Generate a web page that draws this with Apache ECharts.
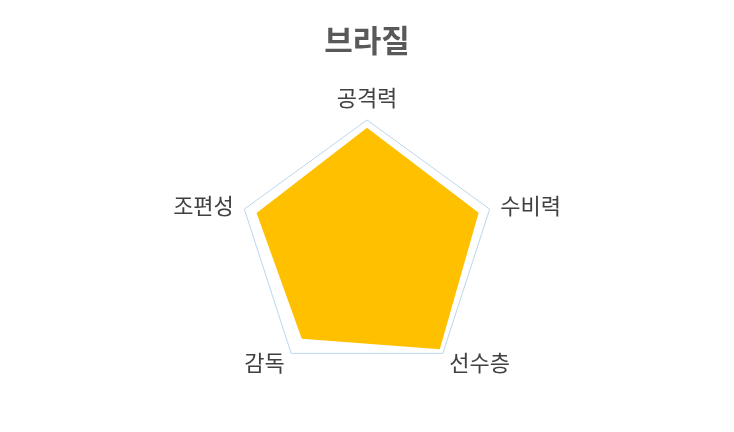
<!DOCTYPE html>
<html>
<head>
<meta charset="utf-8">
<script src="https://cdn.jsdelivr.net/npm/echarts@6/dist/echarts.min.js"></script>
<style>
  html, body { margin: 0; padding: 0; background: #fff; }
  #chart { width: 734px; height: 432px; }
</style>
</head>
<body>
<div id="chart"></div>
<script>
// listed counter-clockwise from the top, as echarts lays radar axes out
var indicators = ["공격력", "조편성", "감독", "선수층", "수비력"];
var maxValue = 10;
var brazil = [9.4, 9.0, 8.6, 9.6, 9.1];

var chart = echarts.init(document.getElementById("chart"));
chart.setOption({
    backgroundColor: "#fff",
    title: {
        text: "브라질",
        left: "center",
        top: 20,
        textStyle: {
            fontFamily: "Noto Sans CJK KR",
            fontSize: 31,
            fontWeight: "bold",
            color: "#595959"
        }
    },
    radar: {
        center: [367, 249],
        radius: 129,
        startAngle: 90,
        splitNumber: 1,
        shape: "polygon",
        indicator: indicators.map(function (n) { return { name: n, max: maxValue }; }),
        axisName: {
            color: "#404040",
            fontFamily: "Noto Sans CJK KR",
            fontSize: 22
        },
        nameGap: 11,
        axisLine: { show: false },
        splitArea: { show: false },
        splitLine: { lineStyle: { color: "#BDD7EE", width: 1 } }
    },
    series: [{
        type: "radar",
        symbol: "none",
        lineStyle: { width: 0 },
        areaStyle: { color: "#FFC000", opacity: 1 },
        data: [{ value: brazil, name: "브라질" }]
    }]
});
</script>
</body>
</html>
